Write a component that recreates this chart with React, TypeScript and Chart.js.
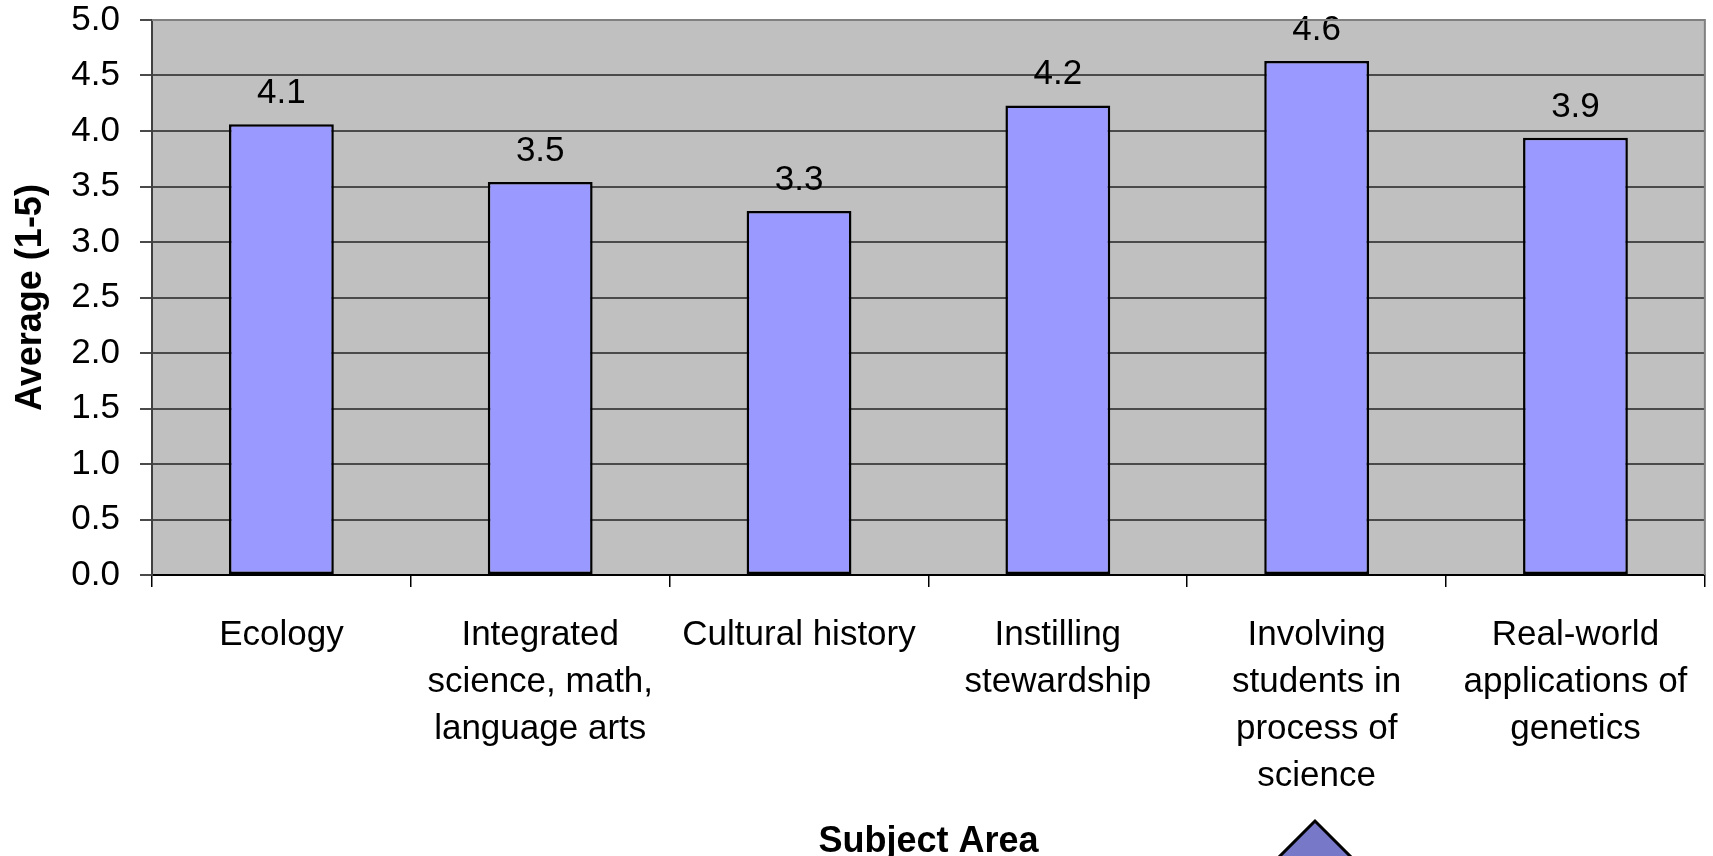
import React, { useEffect, useRef } from "react";
import { Chart, registerables } from "chart.js";

Chart.register(...registerables);

const categories: (string | string[])[] = [
  "Ecology",
  ["Integrated", "science, math,", "language arts"],
  "Cultural history",
  ["Instilling", "stewardship"],
  ["Involving", "students in", "process of", "science"],
  ["Real-world", "applications of", "genetics"],
];
const averages: number[] = [4.06, 3.54, 3.28, 4.23, 4.63, 3.94];
const yTicks: number[] = [0, 0.5, 1, 1.5, 2, 2.5, 3, 3.5, 4, 4.5, 5];
const yTitle = "Average (1-5)";
const xTitle = "Subject Area";

const FONT = "'Liberation Sans', Arial, sans-serif";

const plotBg = {
  id: "plotBg",
  beforeDraw(chart: any) {
    const { ctx, chartArea: a } = chart;
    ctx.save();
    ctx.fillStyle = "#C0C0C0";
    ctx.fillRect(a.left, a.top, a.right - a.left, a.bottom - a.top);
    ctx.restore();
  },
  afterDraw(chart: any) {
    const { ctx, chartArea: a } = chart;
    ctx.save();
    ctx.strokeStyle = "#808080";
    ctx.lineWidth = 2;
    ctx.beginPath();
    ctx.moveTo(a.left, a.top);
    ctx.lineTo(a.right, a.top);
    ctx.lineTo(a.right, a.bottom);
    ctx.stroke();
    // decorative arrow shape at the bottom of the slide
    ctx.beginPath();
    ctx.moveTo(1315, 821);
    ctx.lineTo(1315 - 60, 881);
    ctx.lineTo(1315 + 60, 881);
    ctx.closePath();
    ctx.fillStyle = "#7878C8";
    ctx.fill();
    ctx.strokeStyle = "#000";
    ctx.lineWidth = 3;
    ctx.stroke();
    ctx.restore();
  },
};

const barLabels = {
  id: "barLabels",
  afterDatasetsDraw(chart: any) {
    const { ctx } = chart;
    const meta = chart.getDatasetMeta(0);
    const data = chart.data.datasets[0].data as number[];
    ctx.save();
    ctx.font = `35px ${FONT}`;
    ctx.fillStyle = "#000";
    ctx.textAlign = "center";
    ctx.textBaseline = "alphabetic";
    meta.data.forEach((bar: any, i: number) => {
      ctx.fillText(data[i].toFixed(1), bar.x, bar.y - 21);
    });
    ctx.restore();
  },
};

export default function App() {
  const ref = useRef<HTMLCanvasElement | null>(null);
  useEffect(() => {
    if (!ref.current) return;
    const chart = new Chart(ref.current, {
      type: "bar",
      data: {
        labels: categories,
        datasets: [
          {
            data: averages,
            backgroundColor: "#9999FF",
            borderColor: "#000000",
            borderWidth: 2.5,
            borderSkipped: false,
            barPercentage: 0.405,
            categoryPercentage: 1,
          },
        ],
      },
      options: {
        animation: false,
        responsive: true,
        maintainAspectRatio: false,
        layout: { padding: { top: 20, right: 8, left: 0, bottom: 0 } },
        plugins: {
          legend: { display: false },
          tooltip: { enabled: false },
        },
        scales: {
          x: {
            grid: {
              offset: true,
              drawOnChartArea: false,
              drawTicks: true,
              tickLength: 12,
              color: "#000",
              lineWidth: 1.5,
            },
            border: { display: true, color: "#000", width: 2 },
            ticks: {
              color: "#000",
              font: { family: FONT, size: 35, lineHeight: 1.34 },
              maxRotation: 0,
              minRotation: 0,
              autoSkip: false,
              padding: 25,
            },
            title: {
              display: true,
              text: xTitle,
              color: "#000",
              font: { family: FONT, size: 36, weight: "bold", lineHeight: 0.78 },
              padding: { top: 0, bottom: 0 },
            },
            afterFit(scale: any) {
              scale.height = 281;
            },
          },
          y: {
            min: 0,
            max: 5,
            afterBuildTicks(scale: any) {
              scale.ticks = yTicks.map((v) => ({ value: v }));
            },
            grid: {
              color: "#4A4A4A",
              lineWidth: 2,
              tickLength: 12,
              drawTicks: true,
            },
            border: { display: true, color: "#404040", width: 2 },
            ticks: {
              color: "#000",
              font: { family: FONT, size: 35 },
              padding: 20,
              callback: (v: any) => Number(v).toFixed(1),
            },
            title: {
              display: true,
              text: yTitle,
              color: "#000",
              font: { family: FONT, size: 36, weight: "bold", lineHeight: 1 },
              padding: { top: 13, bottom: 0 },
            },
            afterFit(scale: any) {
              scale.width = 152;
              scale.paddingTop = 0;
              scale.paddingBottom = 0;
            },
          },
        },
      },
      plugins: [plotBg, barLabels],
    });
    return () => chart.destroy();
  }, []);
  return (
    <div
      style={{
        position: "fixed",
        left: 0,
        top: 0,
        width: "1713px",
        height: "856px",
        background: "#fff",
      }}
    >
      <canvas ref={ref} />
    </div>
  );
}
